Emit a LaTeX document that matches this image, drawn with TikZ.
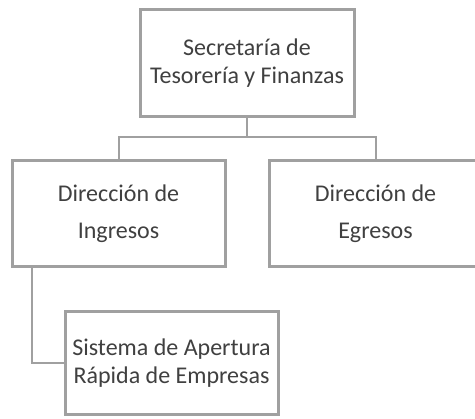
\documentclass[tikz,border=0pt]{standalone}
\usepackage{fontspec}
\setmainfont{Carlito}
\usepackage{xcolor}
\usepackage{tikz}
\usetikzlibrary{positioning}
\definecolor{boxgray}{HTML}{A0A0A0}
\definecolor{textgray}{HTML}{404040}

\tikzset{
  orgbox/.style={draw=boxgray, line width=3pt, fill=white, text=textgray,
    minimum width=213pt, minimum height=106pt, align=center, inner sep=0pt,
    font=\fontsize{24}{28}\selectfont},
  link/.style={draw=boxgray, line width=2pt}
}

\begin{document}
\begin{tikzpicture}[x=1pt, y=-1pt]
\useasboundingbox (0,0) rectangle (475,419);

\node (sec) at (247,63.5) [orgbox, minimum width=214pt, minimum height=107pt]{Secretaría de\\Tesorería y Finanzas};
\node (ing) at (118.5,214) [orgbox]{Dirección de\\[9pt]Ingresos};
\node (egr) at (375.5,214) [orgbox]{Dirección de\\[9pt]Egresos};
\node (sis) at (171.5,363.5) [orgbox, minimum height=103pt]{Sistema de Apertura\\Rápida de Empresas};

\coordinate (bus) at (247,137);
\draw[link] (sec.south) -- (bus) -| (ing.north);
\draw[link] (bus) -| (egr.north);
\draw[link] ([xshift=21pt]ing.south west) |- (sis.west);

\end{tikzpicture}
\end{document}
